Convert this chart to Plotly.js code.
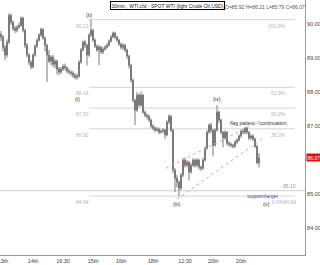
<!DOCTYPE html>
<html>
<head>
<meta charset="utf-8">
<script src="https://cdn.plot.ly/plotly-3.0.1.min.js"></script>
<style>html,body{margin:0;padding:0;background:#fff;}#chart{width:320px;height:265px;}</style>
</head>
<body>
<div id="chart"></div>
<script>
// ---- data (30min bars, WTI) ----
const opens = [
 89.70,89.62,89.32,89.09,89.47,90.26,90.06,89.88,89.82,89.91,
 89.97,90.18,89.82,89.38,89.09,88.88,88.74,89.09,89.35,89.53,
 89.68,89.85,89.59,89.38,89.09,88.91,89.03,88.82,88.91,88.68,
 88.59,88.68,88.76,88.71,88.62,88.59,88.56,88.50,88.44,88.47,
 88.88,89.24,89.47,89.38,89.09,89.68,89.82,89.53,89.35,89.24,
 89.32,89.18,89.26,89.32,89.38,89.50,89.62,89.74,89.62,89.53,
 89.41,89.32,89.38,89.24,89.06,88.79,88.35,87.76,87.47,87.91,
 87.62,87.91,87.41,87.32,87.29,87.18,87.00,86.94,86.88,86.91,
 86.82,86.85,86.88,86.74,87.12,87.29,86.88,85.71,85.47,85.35,
 85.18,85.56,86.00,85.85,85.94,85.65,85.85,86.00,85.85,86.00,
 85.79,85.76,86.00,86.35,86.82,87.03,86.88,86.44,86.88,87.41,
 87.18,86.82,86.65,86.82,86.50,86.47,86.44,86.41,86.53,86.59,
 86.71,86.85,86.82,86.94,86.82,86.65,86.71,86.62,86.40,85.92];
const closes = [
 89.62,89.32,89.09,89.47,90.26,90.06,89.88,89.82,89.91,89.97,
 90.18,89.82,89.38,89.09,88.88,88.74,89.09,89.35,89.53,89.68,
 89.85,89.59,89.38,89.09,88.91,89.03,88.82,88.91,88.68,88.59,
 88.68,88.76,88.71,88.62,88.59,88.56,88.50,88.44,88.47,88.88,
 89.24,89.47,89.38,89.09,89.68,89.82,89.53,89.35,89.24,89.32,
 89.18,89.26,89.32,89.38,89.50,89.62,89.74,89.62,89.53,89.41,
 89.32,89.38,89.24,89.06,88.79,88.35,87.76,87.47,87.91,87.62,
 87.91,87.41,87.32,87.29,87.18,87.00,86.94,86.88,86.91,86.82,
 86.85,86.88,86.74,87.12,87.29,86.88,85.71,85.47,85.35,85.18,
 85.56,86.00,85.85,85.94,85.65,85.85,86.00,85.85,86.00,85.79,
 85.76,86.00,86.35,86.82,87.03,86.88,86.44,86.88,87.41,87.18,
 86.82,86.65,86.82,86.50,86.47,86.44,86.41,86.53,86.59,86.71,
 86.85,86.82,86.94,86.82,86.65,86.71,86.62,86.40,85.92,86.07];
const highs = [
 89.80,89.68,89.38,89.55,90.32,90.30,90.10,89.95,89.97,90.04,
 90.22,90.22,89.86,89.44,89.14,88.94,89.14,89.40,89.58,89.74,
 89.90,89.88,89.64,89.42,89.24,89.08,89.10,88.97,88.96,88.74,
 88.74,88.82,88.84,88.76,88.68,88.64,88.62,88.56,88.54,88.94,
 89.30,89.52,89.54,89.42,89.74,90.13,89.86,89.58,89.40,89.38,
 89.36,89.32,89.38,89.44,89.55,89.68,89.78,89.78,89.66,89.57,
 89.46,89.44,89.42,89.28,89.10,88.84,88.40,87.80,88.00,87.96,
 88.02,87.95,87.46,87.38,87.34,87.22,87.06,87.00,86.97,86.96,
 86.90,86.94,86.92,87.17,87.35,87.32,86.92,85.76,85.56,85.40,
 85.62,86.06,86.08,86.00,85.98,85.92,86.06,86.04,86.06,86.04,
 85.84,86.06,86.40,86.88,87.08,87.10,86.92,86.94,87.62,87.46,
 87.22,86.86,86.88,86.86,86.56,86.52,86.48,86.58,86.64,86.76,
 86.90,86.92,86.98,86.98,86.86,86.76,86.76,86.66,86.45,86.21];
const lows = [
 89.50,89.20,88.94,89.02,89.42,89.98,89.80,89.74,89.76,89.86,
 89.92,89.76,89.30,89.02,88.80,88.68,88.70,89.04,89.30,89.48,
 89.62,89.54,89.20,88.30,88.86,88.80,88.74,88.70,88.52,88.50,
 88.54,88.62,88.64,88.56,88.52,88.48,88.42,88.38,88.36,88.42,
 88.84,89.20,89.30,88.79,89.04,89.62,89.48,89.30,89.18,88.79,
 89.12,89.12,89.22,89.28,89.34,89.46,89.58,89.56,89.46,89.36,
 89.26,89.24,89.18,88.98,88.70,88.28,87.70,87.03,87.42,87.56,
 87.58,87.36,87.26,87.20,87.12,86.94,86.88,86.82,86.84,86.76,
 86.78,86.80,86.62,86.70,87.06,86.82,85.62,85.06,85.20,84.94,
 85.12,85.50,85.78,85.80,85.40,85.60,85.80,85.78,85.80,85.72,
 85.68,85.72,85.96,86.30,86.78,86.80,86.12,86.40,86.84,87.10,
 86.76,86.38,86.60,86.44,86.40,86.38,86.34,86.36,86.48,86.54,
 86.66,86.76,86.76,86.76,86.58,86.60,86.56,86.36,85.88,85.79];

// x-axis ticks (bar index) and labels
const tickBars   = [1, 16, 31, 46, 60, 76, 92, 106, 120];
const tickLabels = ["13th","14th","16:30","15th","16th","18th","12:30","20th","20th"];
const yTicks     = [84, 85, 87, 88, 89, 90];

// Fibonacci retracement levels
const fibValues  = [90.13, 88.14, 87.53, 86.92, 84.94];
const fibPct     = ["100.0%", "61.8%", "50.0%", "38.2%", "0.0%84.94"];
const fibStart   = 44, fibEnd = 147;
const supportLevel = 85.10;

// Elliott wave labels
const waveBars   = [44, 38, 87.5, 108, 132.5];
const wavePrices = [90.26, 87.79, 84.71, 87.79, 84.71];
const waveText   = ["(ii)", "(i)", "(iii)", "(iv)", "(v)"];

// flag channel (dotted)
const chanUpperX = [82.5, 130.5], chanUpperY = [85.76, 87.18];
const chanLowerX = [88,   130.5], chanLowerY = [84.85, 86.62];

const bars = opens.map((_, i) => i);
const last = closes[closes.length - 1];

const traces = [{
  type: 'candlestick',
  x: bars, open: opens, high: highs, low: lows, close: closes,
  increasing: {line: {color: '#7a7a7a', width: 1}, fillcolor: '#1f6e1f'},
  decreasing: {line: {color: '#7a7a7a', width: 1}, fillcolor: '#8c1c1c'},
  whiskerwidth: 0, hoverinfo: 'skip', showlegend: false
}, {
  type: 'scatter', mode: 'lines', x: chanUpperX, y: chanUpperY,
  line: {color: '#e89a9a', width: 1, dash: 'dot'}, hoverinfo: 'skip', showlegend: false
}, {
  type: 'scatter', mode: 'lines', x: chanLowerX, y: chanLowerY,
  line: {color: '#e89a9a', width: 1, dash: 'dot'}, hoverinfo: 'skip', showlegend: false
}];

const shapes = [];
fibValues.forEach(v => shapes.push({type:'line', xref:'x', yref:'y', x0: fibStart, x1: fibEnd, y0: v, y1: v,
  line:{color:'#d4d4d4', width:1}, layer:'below'}));
shapes.push({type:'line', xref:'paper', yref:'y', x0:0, x1:1, y0:supportLevel, y1:supportLevel,
  line:{color:'#cfcfcf', width:1}, layer:'below'});

const fam = 'Liberation Sans, Arial, sans-serif';
const fnt = {family:fam, size:5, color:'#b5b5b5'};
const ann = [];
fibValues.forEach((v, k) => {
  ann.push({xref:'x', yref:'y', x: fibStart + 1, y: v, text: v.toFixed(2), showarrow:false,
    xanchor:'right', yanchor:'top', yshift:-1, font: fnt});
  ann.push({xref:'x', yref:'y', x: k === 4 ? 148.5 : 143.5, y: v, text: fibPct[k], showarrow:false,
    xanchor:'right', yanchor:'top', yshift:-1, font: fnt});
});
ann.push({xref:'x', yref:'y', x:148.5, y:supportLevel, text: supportLevel.toFixed(2), showarrow:false,
  xanchor:'right', yanchor:'bottom', font:{family:fam, size:5, color:'#8f8fd0'}});
ann.push({xref:'x', yref:'y', x:139.5, y:supportLevel, text:'support/target', showarrow:false,
  xanchor:'right', yanchor:'top', font:{family:fam, size:5, color:'#3c4fc0'}});
waveText.forEach((t, k) => ann.push({xref:'x', yref:'y', x: waveBars[k], y: wavePrices[k], text: t,
  showarrow:false, font:{family:fam, size:5.5, color:'#333'}}));
ann.push({xref:'x', yref:'y', x:128.5, y:87.09, text:'flag pattern - continuation', showarrow:false,
  font:{family:fam, size:5, color:'#333'}});
ann.push({xref:'paper', yref:'paper', x:110/305, y:1, xanchor:'left', yanchor:'top', yshift:-1,
  text:'30min , WTI.cfd - SPOT WTI (light Crude Oil,USD)', showarrow:false,
  bordercolor:'#000', borderwidth:1, borderpad:0.5, bgcolor:'#fff',
  font:{family:fam, size:5, color:'#222'}});
ann.push({xref:'paper', yref:'paper', x:223/305, y:1, xanchor:'left', yanchor:'top', yshift:-1.5,
  text:'O=' + opens[opens.length-1].toFixed(2) + ' H=' + highs[highs.length-1].toFixed(2) +
       ' L=' + lows[lows.length-1].toFixed(2) + ' C=' + last.toFixed(2),
  showarrow:false, font:{family:fam, size:5, color:'#555'}});
ann.push({xref:'paper', yref:'y', x:1, y:last, xanchor:'left', xshift:0.5, text: last.toFixed(2),
  showarrow:false, bgcolor:'#e01010', borderpad:0.5, font:{family:fam, size:5, color:'#fff'}});

const layout = {
  width: 320, height: 265,
  margin: {l:0, r:15, t:0, b:10, pad:0},
  paper_bgcolor:'#fff', plot_bgcolor:'#fff',
  showlegend: false,
  xaxis: {range:[-0.5, 152], showgrid:false, zeroline:false, rangeslider:{visible:false},
    tickmode:'array', tickvals: tickBars, ticktext: tickLabels, ticks:'',
    ticklabeloverflow:'allow', ticklabelstandoff:0,
    tickfont:{family:fam, size:5.5, color:'#444'},
    showline:true, linecolor:'#999', linewidth:1, fixedrange:true},
  yaxis: {side:'right', range:[83.21, 90.71], showgrid:false, zeroline:false,
    tickmode:'array', tickvals: yTicks, ticktext: yTicks.map(v => v.toFixed(2)), ticks:'',
    tickfont:{family:fam, size:5.5, color:'#444'},
    showline:true, linecolor:'#999', linewidth:1, fixedrange:true},
  shapes: shapes,
  annotations: ann
};

Plotly.newPlot('chart', traces, layout, {staticPlot:true, displayModeBar:false});
</script>
</body>
</html>
